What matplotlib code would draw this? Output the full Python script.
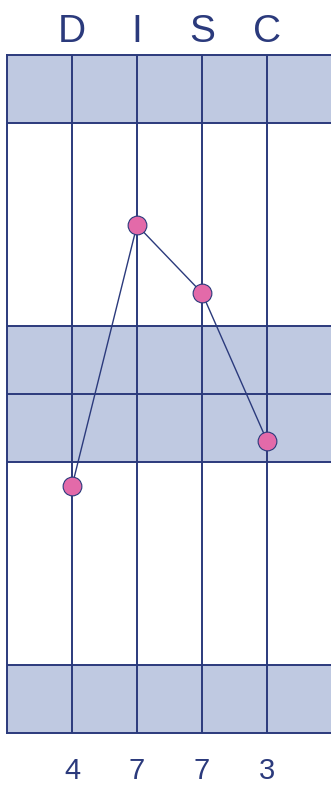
import matplotlib.pyplot as plt

# DISC profile graph
factors = ["D", "I", "S", "C"]
scores = [4, 7, 7, 3]
# plotted position of each point on the graph scale (0 bottom .. 10 top)
graph_pos = [3.64, 7.49, 6.49, 4.31]
row_lines = [1, 4, 5, 6, 9]
shaded_rows = [(0, 1), (4, 6), (9, 10)]

navy = "#2b3a7c"
band = "#bfc9e1"
pink = "#e36aa9"

W, H = 331, 787
fig = plt.figure(figsize=(W / 100, H / 100), dpi=100)
left, right = 7 / W, 332 / W
top, bottom = 1 - 55 / H, 1 - 733 / H
ax = fig.add_axes([left, bottom, right - left, top - bottom])

ax.set_xlim(0, 5)
ax.set_ylim(0, 10)

for lo, hi in shaded_rows:
    ax.axhspan(lo, hi, color=band, lw=0, zorder=0)
for y in row_lines:
    ax.axhline(y, color=navy, lw=1.4, zorder=1)
for x in range(1, 5):
    ax.axvline(x, color=navy, lw=1.4, zorder=1)

xs = list(range(1, len(factors) + 1))
ax.plot(xs, graph_pos, color=navy, lw=1.0, zorder=2)
ax.plot(xs, graph_pos, "o", ms=13.5, mfc=pink, mec=navy, mew=0.8, zorder=3)

row_px = 67.8
for x, f, s in zip(xs, factors, scores):
    ax.text(x, 10.0 + 13 / row_px, f, ha="center", va="baseline",
            fontsize=28, color=navy, family="Liberation Sans")
    ax.text(x, -46 / row_px, str(s), ha="center", va="baseline",
            fontsize=21, color=navy, family="Liberation Sans", clip_on=False)

ax.set_xticks([])
ax.set_yticks([])
for sp in ax.spines.values():
    sp.set_color(navy)
    sp.set_linewidth(1.4)

fig.savefig("out.png", dpi=100)
